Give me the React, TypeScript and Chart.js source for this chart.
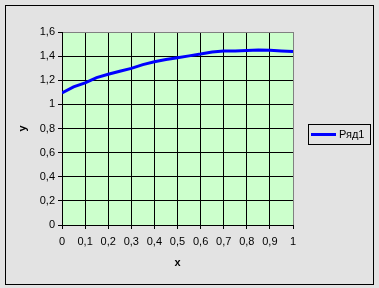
import React, { useEffect, useRef } from "react";
import { Chart, registerables } from "chart.js";

Chart.register(...registerables);

const xValues = [0, 0.05, 0.1, 0.15, 0.2, 0.25, 0.3, 0.35, 0.4, 0.45, 0.5, 0.55, 0.6, 0.65, 0.7, 0.75, 0.8, 0.85, 0.9, 0.95, 1];
const yValues = [1.095, 1.145, 1.178, 1.222, 1.25, 1.275, 1.298, 1.33, 1.354, 1.372, 1.387, 1.402, 1.417, 1.435, 1.442, 1.443, 1.446, 1.45, 1.448, 1.442, 1.438];
const seriesName = "Ряд1";
const xTitle = "x";
const yTitle = "y";

const FONT = "'Liberation Sans', Arial, sans-serif";

const fmt = (v: number) => {
  const r = Math.round(v * 10) / 10;
  return String(r).replace(".", ",");
};

const decorPlugin = {
  id: "decor",
  beforeDraw(chart: any) {
    const { ctx, width, height, chartArea } = chart;
    ctx.save();
    ctx.fillStyle = "#e3e3e3";
    ctx.fillRect(0, 0, width, height);
    ctx.strokeStyle = "#000";
    ctx.lineWidth = 1;
    ctx.strokeRect(5.5, 5.5, 368, 279);
    ctx.fillStyle = "#ccffcc";
    ctx.fillRect(chartArea.left, chartArea.top, chartArea.right - chartArea.left, chartArea.bottom - chartArea.top);
    ctx.restore();
  },
  afterDraw(chart: any) {
    const { ctx } = chart;
    ctx.save();
    ctx.strokeStyle = "#000";
    ctx.lineWidth = 1;
    ctx.strokeRect(308.5, 124.5, 62, 20);
    ctx.strokeStyle = "#0000ff";
    ctx.lineWidth = 3;
    ctx.beginPath();
    ctx.moveTo(311, 134.5);
    ctx.lineTo(336, 134.5);
    ctx.stroke();
    ctx.fillStyle = "#000";
    ctx.font = "11px " + FONT;
    ctx.textBaseline = "middle";
    ctx.textAlign = "left";
    ctx.fillText(seriesName, 339, 135);
    ctx.restore();
  },
};

export default function App() {
  const ref = useRef<HTMLCanvasElement>(null);
  useEffect(() => {
    document.body.style.margin = "0";
    const canvas = ref.current!;
    const chart = new Chart(canvas, {
      type: "line",
      data: {
        datasets: [
          {
            label: seriesName,
            data: xValues.map((x, i) => ({ x, y: yValues[i] })),
            borderColor: "#0000ff",
            borderWidth: 3,
            pointRadius: 0,
            tension: 0,
            fill: false,
          },
        ],
      },
      options: {
        animation: false,
        responsive: false,
        devicePixelRatio: 1,
        layout: { padding: { left: 0, top: 32, right: 86, bottom: 0 } },
        plugins: { legend: { display: false }, tooltip: { enabled: false } },
        scales: {
          x: {
            type: "linear",
            min: 0,
            max: 1,
            afterFit: (s: any) => { s.height = 63; },
            ticks: {
              stepSize: 0.1,
              padding: 6,
              color: "#000",
              font: { family: FONT, size: 11 },
              maxRotation: 0,
              callback: (v: any) => fmt(Number(v)),
            },
            grid: {
              color: (c: any) => (c.tick && Math.abs(c.tick.value - 1) < 1e-6 ? "#808080" : "#000"),
              tickColor: "#000",
              tickLength: 4,
              lineWidth: 1,
            },
            border: { color: "#000", width: 1 },
            title: { display: true, text: xTitle, color: "#000", font: { family: FONT, size: 11, weight: "bold" }, padding: { top: 0, bottom: 18 } },
          },
          y: {
            min: 0,
            max: 1.6,
            afterFit: (s: any) => { s.width = 62; },
            ticks: {
              stepSize: 0.2,
              padding: 3,
              color: "#000",
              font: { family: FONT, size: 11 },
              callback: (v: any) => fmt(Number(v)),
            },
            grid: {
              color: (c: any) => (c.tick && Math.abs(c.tick.value - 1.6) < 1e-6 ? "#808080" : "#000"),
              tickColor: "#000",
              tickLength: 4,
              lineWidth: 1,
            },
            border: { color: "#000", width: 1 },
            title: { display: true, text: yTitle, color: "#000", font: { family: FONT, size: 11, weight: "bold" }, padding: { top: 16, bottom: 0 } },
          },
        },
      },
      plugins: [decorPlugin],
    } as any);
    return () => chart.destroy();
  }, []);
  return <canvas ref={ref} width={379} height={288} style={{ display: "block", width: 379, height: 288 }} />;
}
